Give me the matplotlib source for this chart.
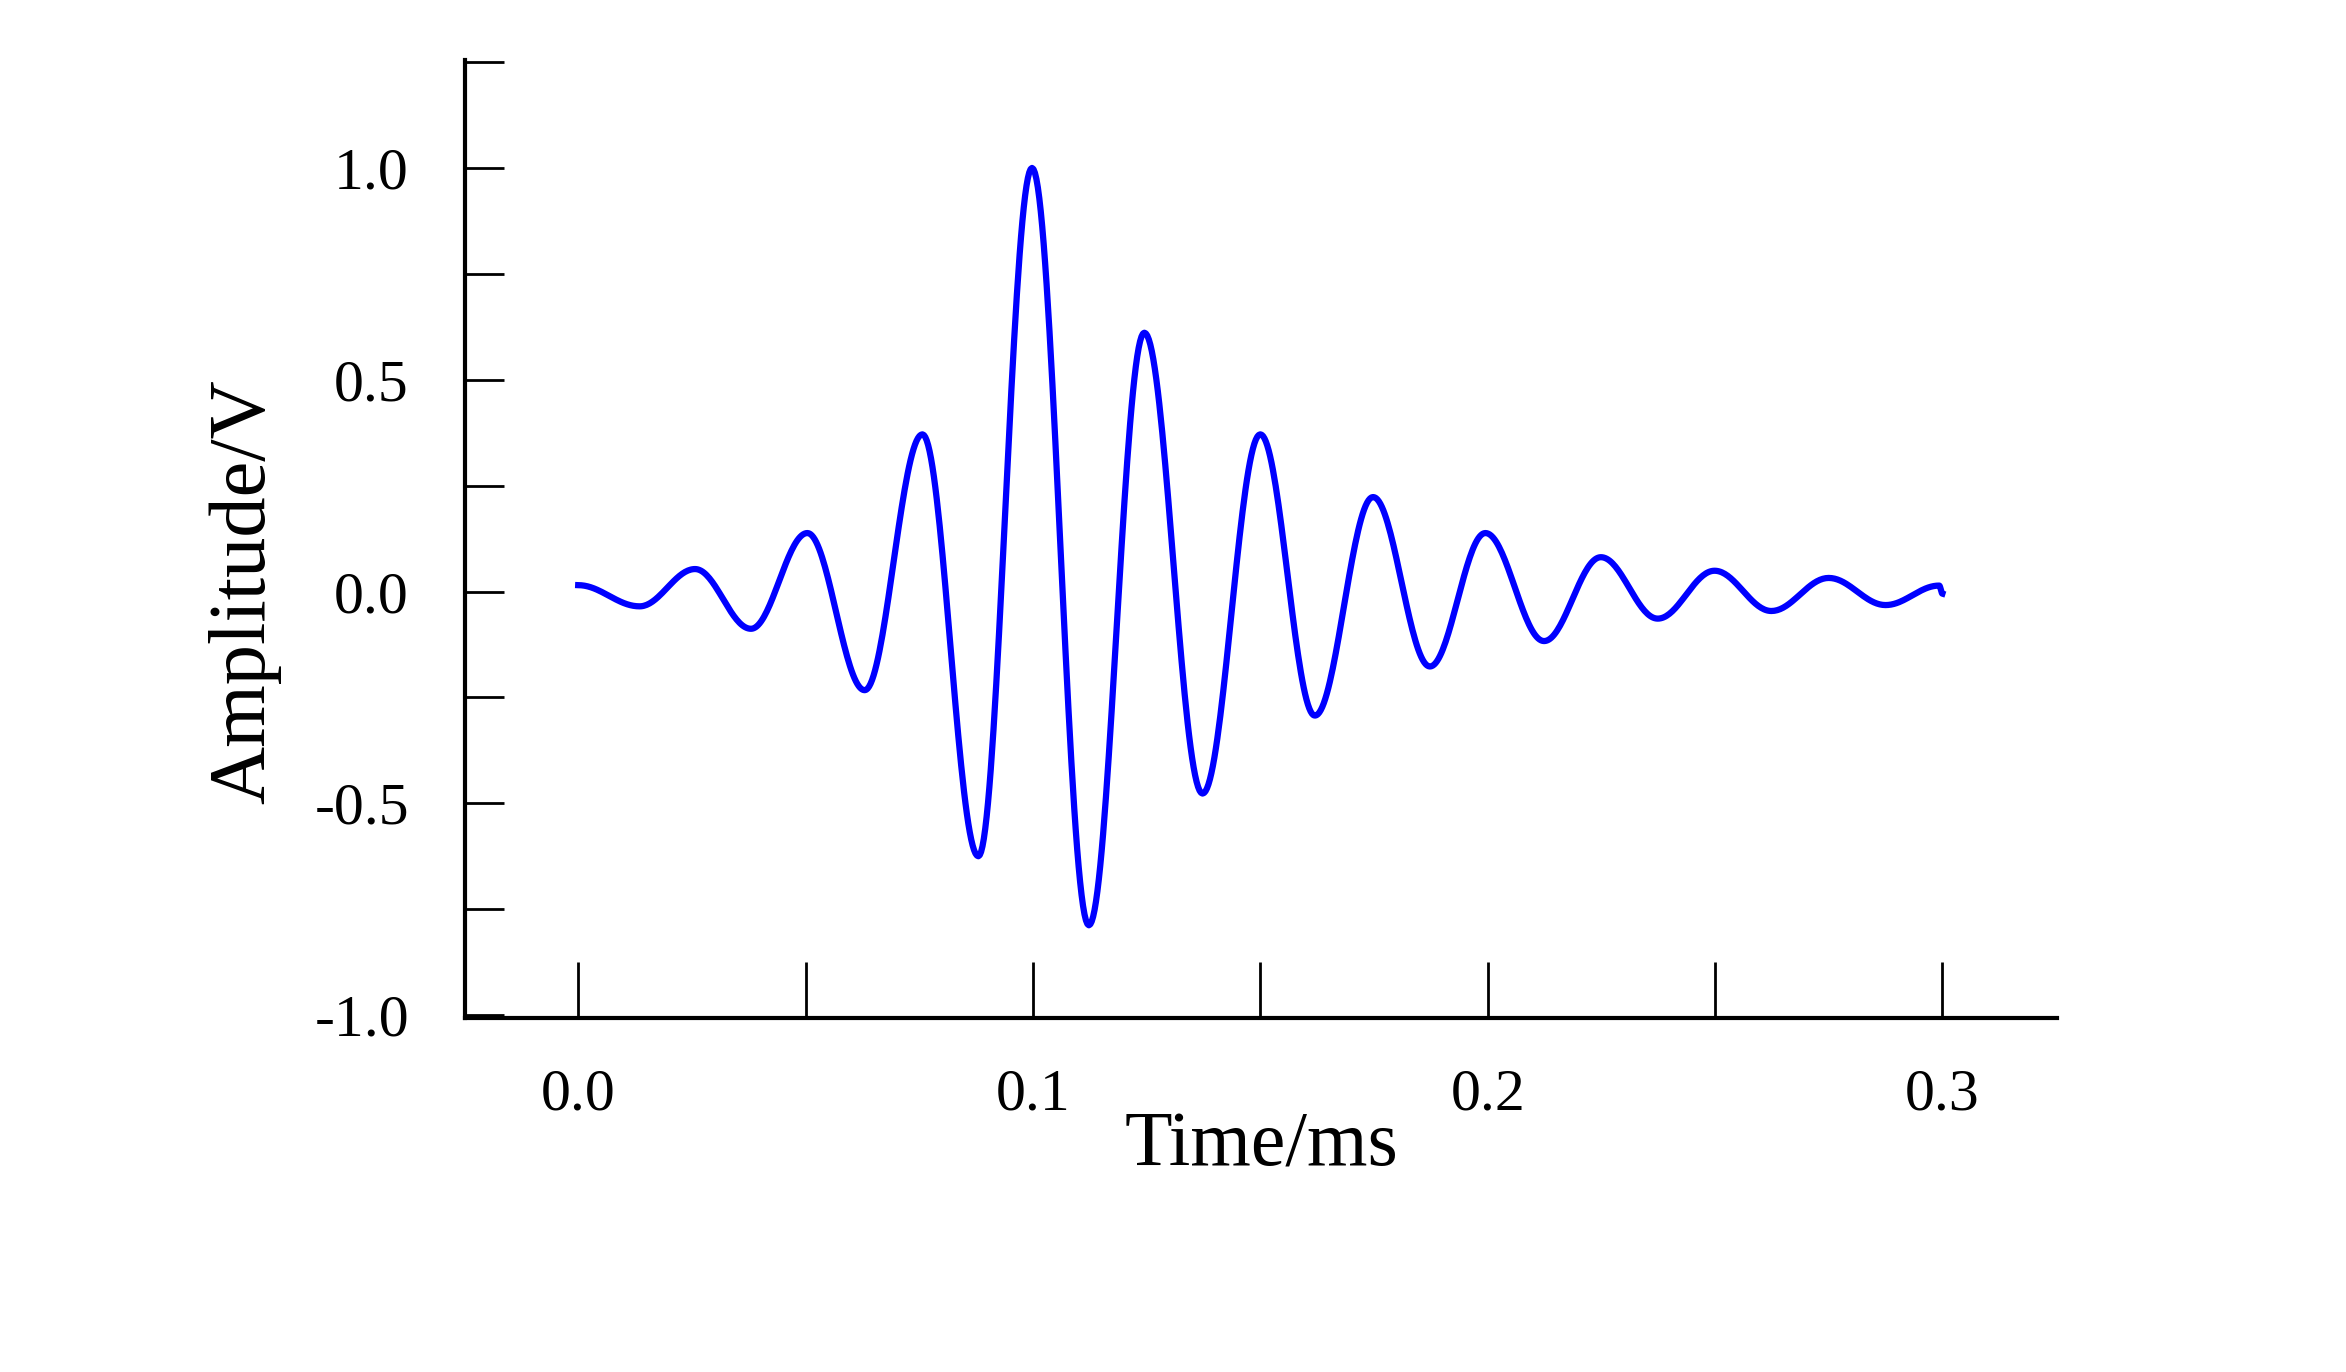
import numpy as np
import matplotlib
matplotlib.use("Agg")
import matplotlib.pyplot as plt
from matplotlib.ticker import MultipleLocator

# extrema of the waveform (time in ms, amplitude in V)
ext_t = [0.0, 0.0135, 0.0257, 0.038, 0.0504, 0.063, 0.0757, 0.088, 0.0998, 0.1123,
         0.1245, 0.1373, 0.150, 0.162, 0.1748, 0.1873, 0.1995, 0.2124, 0.2249,
         0.2374, 0.2499, 0.2624, 0.275, 0.2875, 0.2993, 0.3]
ext_a = [0.015, -0.035, 0.053, -0.088, 0.138, -0.233, 0.371, -0.625, 1.0, -0.788,
         0.611, -0.477, 0.371, -0.293, 0.223, -0.177, 0.138, -0.117, 0.081,
         -0.064, 0.049, -0.046, 0.032, -0.032, 0.014, -0.005]

# draw smooth half-cosine segments between consecutive extrema
ts, ys = [], []
for i in range(len(ext_t) - 1):
    t0, t1, a, b = ext_t[i], ext_t[i+1], ext_a[i], ext_a[i+1]
    u = np.linspace(0, 1, 40)
    ts.append(t0 + (t1 - t0) * u)
    ys.append((a + b) / 2 + (a - b) / 2 * np.cos(np.pi * u))
t = np.concatenate(ts); y = np.concatenate(ys)

plt.rcParams['font.family'] = ['Liberation Serif', 'DejaVu Serif']
fig = plt.figure(figsize=(23.46, 13.72), dpi=100)
ax = fig.add_axes([0.198, 0.258, 0.679, 0.698])
ax.plot(t, y, color='#0000ff', lw=4.5)
for s in ['top', 'right']:
    ax.spines[s].set_visible(False)
for s in ['left', 'bottom']:
    ax.spines[s].set_linewidth(3)
ax.xaxis.set_major_locator(MultipleLocator(0.1))
ax.xaxis.set_minor_locator(MultipleLocator(0.05))
ax.yaxis.set_major_locator(MultipleLocator(0.5))
ax.yaxis.set_minor_locator(MultipleLocator(0.25))
ax.tick_params(axis='x', which='both', direction='in', length=40, width=2, labelsize=43, pad=36)
ax.tick_params(axis='y', which='both', direction='in', length=28, width=2, labelsize=43, pad=40)
ax.set_xticks(ax.get_xticks())
ax.set_yticks(ax.get_yticks())
ax.set_xticklabels([f"{v:.1f}" for v in ax.get_xticks()])
ax.set_yticklabels([f"{v:.1f}" for v in ax.get_yticks()])
ax.set_xlim(-0.025, 0.3253)
ax.set_ylim(-1.007, 1.254)
ax.set_xlabel("Time/ms", fontsize=56, labelpad=-8)
ax.set_ylabel("Amplitude/V", fontsize=58)
ax.yaxis.set_label_coords(-0.115, 0.445)
fig.savefig("out.png", dpi=100, facecolor='white')
